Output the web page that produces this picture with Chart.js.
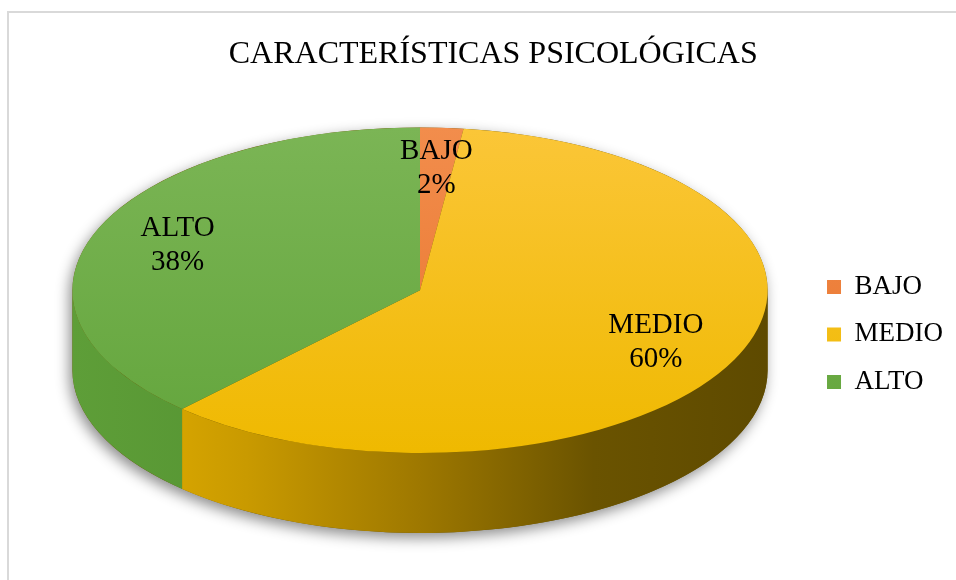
<!DOCTYPE html>
<html>
<head>
<meta charset="utf-8">
<title>Características psicológicas</title>
<script src="https://cdn.jsdelivr.net/npm/chart.js@4.4.1/dist/chart.umd.min.js"></script>
<style>
  html, body { margin: 0; padding: 0; background: #fff; }
  #wrap { position: relative; width: 956px; height: 580px; overflow: hidden; }
  #frame { position: absolute; left: 7px; top: 11px; right: -4px; bottom: -4px;
           border-top: 2px solid #d9d9d9; border-left: 2px solid #d9d9d9; }
  canvas { position: absolute; left: 0; top: 0; }
</style>
</head>
<body>
<div id="wrap">
  <div id="frame"></div>
  <canvas id="pieChart" width="956" height="580"></canvas>
</div>
<script>
const TITLE = 'CARACTERÍSTICAS PSICOLÓGICAS';
const LABELS = ['BAJO', 'MEDIO', 'ALTO'];
const VALUES = [2, 60, 38];

// top face: [light, dark]; side wall: shades from left to right
const TOP_SHADES = [['#F28D4C', '#E8732B'], ['#FBC638', '#EFB900'], ['#7BB555', '#63A53C']];
const SIDE_SHADES = [
  ['#E07A34', '#9A4A14'],
  ['#E8B300', '#C99A00', '#9E7800', '#6A5300', '#5E4A00'],
  ['#5E9E38', '#4E8C2E', '#3D6E22']
];
const FONT = "'Liberation Serif', 'Times New Roman', serif";
const ASPECT = 2.135;   // horizontal stretch of the tilted disc
const DEPTH = 80;       // thickness of the disc in px
const LABEL_R = 0.75;

function byId(id){ return document.getElementById(id); }

function topFill(ctx){
  const i = ctx.dataIndex;
  const area = ctx.chart.chartArea;
  if(i === undefined) return TOP_SHADES[0][1];
  if(!area) return TOP_SHADES[i][1];
  const g = ctx.chart.ctx.createLinearGradient(0, area.top, 0, area.bottom);
  g.addColorStop(0, TOP_SHADES[i][0]);
  g.addColorStop(1, TOP_SHADES[i][1]);
  return g;
}

const disc3d = {
  id: 'disc3d',
  beforeDatasetsDraw(chart){
    const ctx = chart.ctx;
    const arcs = chart.getDatasetMeta(0).data;
    if(!arcs.length) return;
    const cx = arcs[0].x, cy = arcs[0].y, ry = arcs[0].outerRadius;
    const rx = ry * ASPECT;

    // soft shadow under the whole disc
    ctx.save();
    ctx.shadowColor = 'rgba(0,0,0,0.45)';
    ctx.shadowBlur = 14;
    ctx.shadowOffsetX = -3;
    ctx.shadowOffsetY = 5;
    ctx.beginPath();
    ctx.ellipse(cx, cy, rx, ry, 0, Math.PI, 2*Math.PI);
    ctx.lineTo(cx + rx, cy + DEPTH);
    ctx.ellipse(cx, cy + DEPTH, rx, ry, 0, 0, Math.PI);
    ctx.closePath();
    ctx.fillStyle = '#6a5300';
    ctx.fill();
    ctx.restore();

    // side walls, only the front half is visible
    arcs.forEach((arc, i) => {
      const a = Math.max(arc.startAngle, 0);
      const b = Math.min(arc.endAngle, Math.PI);
      if(b <= a) return;
      const g = ctx.createLinearGradient(cx - rx, 0, cx + rx, 0);
      const shades = SIDE_SHADES[i];
      shades.forEach((c, k) => g.addColorStop(k / (shades.length - 1), c));
      ctx.beginPath();
      ctx.ellipse(cx, cy, rx, ry, 0, a, b);
      ctx.ellipse(cx, cy + DEPTH, rx, ry, 0, b, a, true);
      ctx.closePath();
      ctx.fillStyle = g;
      ctx.fill();
    });

    // squash the pie drawn by Chart.js into the top ellipse
    ctx.save();
    ctx.translate(cx, cy);
    ctx.scale(ASPECT, 1);
    ctx.translate(-cx, -cy);
  },
  afterDatasetsDraw(chart){
    const ctx = chart.ctx;
    const arcs = chart.getDatasetMeta(0).data;
    if(!arcs.length) return;
    ctx.restore();
    const cx = arcs[0].x, cy = arcs[0].y, ry = arcs[0].outerRadius;
    const rx = ry * ASPECT;
    const total = VALUES.reduce((s, v) => s + v, 0);
    ctx.save();
    ctx.fillStyle = '#000';
    ctx.font = `29px ${FONT}`;
    ctx.textAlign = 'center';
    ctx.textBaseline = 'middle';
    arcs.forEach((arc, i) => {
      const mid = (arc.startAngle + arc.endAngle) / 2;
      const x = cx + rx * LABEL_R * Math.cos(mid);
      const y = cy + ry * LABEL_R * Math.sin(mid);
      ctx.fillText(LABELS[i], x, y - 17);
      ctx.fillText(Math.round(VALUES[i] / total * 100) + '%', x, y + 17);
    });
    ctx.restore();
  }
};

new Chart(byId('pieChart').getContext('2d'), {
  type: 'pie',
  data: {
    labels: LABELS,
    datasets: [{
      data: VALUES,
      backgroundColor: topFill,
      borderWidth: 0,
      clip: false
    }]
  },
  options: {
    responsive: false,
    animation: false,
    events: [],
    layout: { padding: { left: 33.5, right: 3, top: 0, bottom: 127 } },
    plugins: {
      title: {
        display: true,
        text: TITLE,
        color: '#000',
        font: { family: FONT, size: 32, weight: 'normal' },
        padding: { top: 35, bottom: 54 }
      },
      legend: {
        position: 'right',
        align: 'center',
        fullSize: false,
        title: { display: true, text: ' ', font: { size: 12 }, padding: { top: 74, bottom: 0 } },
        labels: {
          color: '#000',
          font: { family: FONT, size: 27 },
          boxWidth: 14,
          boxHeight: 14,
          padding: 20.5
        }
      },
      tooltip: { enabled: false }
    }
  },
  plugins: [disc3d]
});
</script>
</body>
</html>
